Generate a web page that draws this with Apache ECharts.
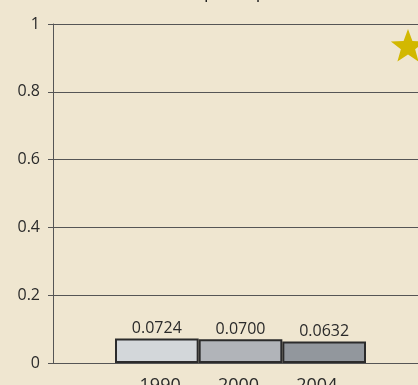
<!DOCTYPE html>
<html><head><meta charset="utf-8">
<script src="https://cdn.jsdelivr.net/npm/echarts@6/dist/echarts.min.js"></script>
<style>html,body{margin:0;padding:0;background:#efe6d0;}#c{width:418px;height:385px;}</style>
</head><body><div id="c"></div>
<script>
var categories = ['1990', '2000', '2004'];
var values = [0.0724, 0.0700, 0.0632];
var barColors = ['#d3d7da', '#b1b4b9', '#92979d'];
var yTicks = [0, 0.2, 0.4, 0.6, 0.8, 1];

function starPoints(cx, cy, R, r) {
  var pts = [];
  for (var i = 0; i < 10; i++) {
    var a = -Math.PI / 2 + i * Math.PI / 5;
    var rad = i % 2 === 0 ? R : r;
    pts.push([cx + rad * Math.cos(a), cy + rad * Math.sin(a)]);
  }
  return pts;
}

var chart = echarts.init(document.getElementById('c'), null, {renderer: 'canvas'});
var font = '"Open Sans", "Noto Sans", sans-serif';
chart.setOption({
  backgroundColor: '#efe6d0',
  animation: false,
  textStyle: {fontFamily: font},
  grid: [
    {left: 53, right: 0, top: 24, bottom: 22, outerBoundsMode: 'none', containLabel: false},
    {left: 115, right: 52, top: 24, bottom: 22, outerBoundsMode: 'none', containLabel: false},
    {left: 121, right: 62, top: 24, bottom: 22, outerBoundsMode: 'none', containLabel: false}
  ],
  xAxis: [
    {gridIndex: 0, type: 'value', min: 0, max: 1, show: true,
     axisLine: {show: false}, axisTick: {show: false}, axisLabel: {show: false}, splitLine: {show: false}},
    {gridIndex: 1, type: 'category', data: categories,
     axisLine: {show: false}, axisTick: {show: false}, axisLabel: {show: false}},
    {gridIndex: 2, type: 'category', data: categories,
     axisLine: {show: false}, axisTick: {show: false},
     axisLabel: {fontSize: 18, color: '#2a2a2a', margin: 14, fontFamily: font}}
  ],
  yAxis: [
    {gridIndex: 0, type: 'value', min: 0, max: 1, interval: 0.2,
     axisLine: {show: true, lineStyle: {color: '#555', width: 1}},
     axisTick: {show: true, length: 5, lineStyle: {color: '#555'}},
     axisLabel: {fontSize: 16, color: '#2a2a2a', margin: 13, fontFamily: font,
       formatter: function (v) { return yTicks.indexOf(v) >= 0 ? String(v) : ''; }},
     splitLine: {show: true, lineStyle: {color: '#555', width: 1}}},
    {gridIndex: 1, type: 'value', min: 0, max: 1, show: false},
    {gridIndex: 2, type: 'value', min: 0, max: 1, show: false}
  ],
  series: [{
    type: 'bar', xAxisIndex: 1, yAxisIndex: 1,
    barCategoryGap: '0%',
    data: values.map(function (v, i) {
      return {value: v, itemStyle: {color: barColors[i]}};
    }),
    itemStyle: {borderColor: '#2b2b2b', borderWidth: 2},
    label: {show: true, position: 'top', distance: 2, fontSize: 16, color: '#2a2a2a', fontFamily: font,
      formatter: function (p) { return p.value.toFixed(4); }}
  }],
  graphic: [
    {type: 'polygon', shape: {points: starPoints(408, 47, 18, 7.5)}, style: {fill: '#d2b800'}, silent: true},
    {type: 'text', left: 204, top: -16, style: {text: 'per capita', font: '18px ' + font, fill: '#222'}, silent: true}
  ]
});
</script></body></html>
